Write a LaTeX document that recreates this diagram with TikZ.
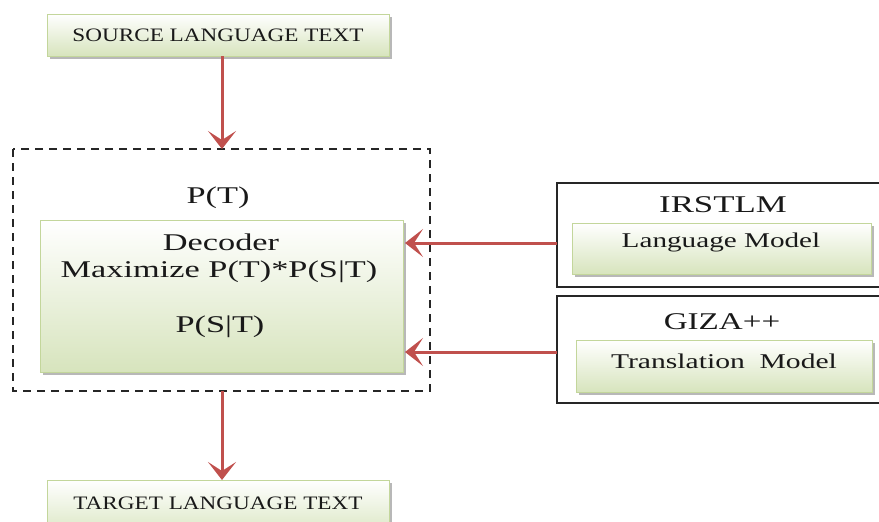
\documentclass[tikz,border=0pt]{standalone}
\usepackage{fontspec}
\usepackage{graphicx}
\setmainfont{Liberation Serif}
\usetikzlibrary{arrows.meta,shadows}
\definecolor{arrred}{RGB}{192,80,77}
\definecolor{gborder}{RGB}{195,214,155}
\definecolor{gbottom}{RGB}{215,228,189}
\newcommand\widetxt[3]{\scalebox{#1}[1]{\fontsize{#2}{#2}\selectfont #3}}
\tikzset{
  greenbox/.style={draw=gborder, line width=1pt, top color=white, bottom color=gbottom,
    drop shadow={shadow xshift=3pt, shadow yshift=-3pt, fill=black!35, opacity=0.8}},
  redarrow/.style={draw=arrred, line width=3pt, -{Stealth[length=18pt,width=28pt,inset=9pt]}},
  outerbox/.style={draw=black!85, line width=1.5pt},
  dashbox/.style={draw=black!85, line width=2pt, dash pattern=on 8pt off 6pt},
  lbl/.style={inner sep=0pt, text=black!90},
}
\begin{document}
\begin{tikzpicture}[x=1pt,y=-1pt]
\useasboundingbox (0,0) rectangle (879,522);
\clip (0,0) rectangle (879,522);
% source
\path[greenbox] (47,14) rectangle (389,56);
\node[lbl] (src) at (218,35) {\widetxt{1.22}{19}{SOURCE LANGUAGE TEXT}};
\coordinate (srcb) at (222,56);
% dashed box
\draw[dashbox] (13,149) rectangle (430,391);
\coordinate (dtop) at (222,149);
\coordinate (dbot) at (222,391);
\node[lbl] (pt) at (218,198) {\widetxt{1.43}{24}{P(T)}};
% decoder
\path[greenbox] (40,220) rectangle (403,372);
\node[lbl] (dec) at (221,242) {\widetxt{1.43}{24}{Decoder}};
\node[lbl] (max) at (219,272) {\widetxt{1.43}{24}{Maximize P(T)*P(S|T)}};
\node[lbl] (pst) at (220,327) {\widetxt{1.43}{24}{P(S|T)}};
\coordinate (in1) at (405,243);
\coordinate (in2) at (405,352);
% right boxes
\draw[outerbox] (557,183) rectangle (885,287);
\node[lbl] (irst) at (723,205) {\widetxt{1.45}{24}{IRSTLM}};
\path[greenbox] (572,223) rectangle (871,274);
\node[lbl] (lm) at (721,242) {\widetxt{1.39}{21}{Language Model}};
\draw[outerbox] (557,296) rectangle (885,403);
\node[lbl] (giza) at (722,322) {\widetxt{1.38}{24}{GIZA++}};
\path[greenbox] (576,340) rectangle (872,392);
\node[lbl] (tm) at (724,361) {\widetxt{1.41}{21}{Translation\ \ Model}};
\coordinate (o1) at (557,243);
\coordinate (o2) at (557,352);
% target
\path[greenbox] (47,480) rectangle (389,540);
\node[lbl] (tgt) at (218,503) {\widetxt{1.22}{19}{TARGET LANGUAGE TEXT}};
\coordinate (tgtt) at (222,480);
% arrows
\draw[redarrow] (srcb) -- (dtop);
\draw[redarrow] (dbot) -- (tgtt);
\draw[redarrow] (o1) -- (in1);
\draw[redarrow] (o2) -- (in2);
\end{tikzpicture}
\end{document}
